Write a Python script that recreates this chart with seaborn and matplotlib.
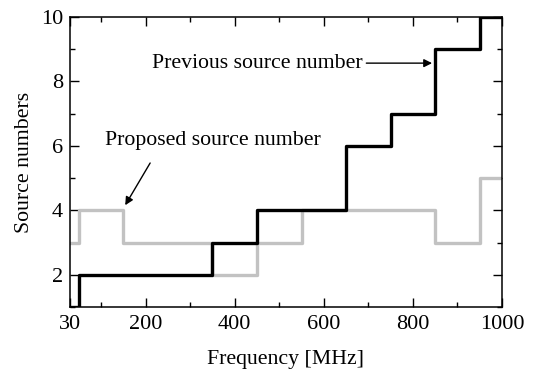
import matplotlib
matplotlib.use("Agg")
import matplotlib.pyplot as plt
import seaborn as sns
import pandas as pd
from matplotlib.ticker import FixedLocator

prev_freq = [30, 50, 350, 450, 650, 750, 850, 950, 1000]
prev_num = [1, 2, 3, 4, 6, 7, 9, 10, 10]
prop_freq = [30, 50, 150, 350, 450, 550, 850, 950, 1000]
prop_num = [3, 4, 3, 2, 3, 4, 3, 5, 5]
x_major = [30, 200, 400, 600, 800, 1000]
x_minor = [100, 300, 500, 700, 900]
y_major = [2, 4, 6, 8, 10]
y_minor = [1, 3, 5, 7, 9]

sns.set_theme(style="ticks")
plt.rcParams['font.family'] = ['Liberation Serif', 'DejaVu Serif']
plt.rcParams['text.color'] = 'black'
plt.rcParams['axes.labelcolor'] = 'black'

fig = plt.figure(figsize=(5.4, 3.71), dpi=100)
ax = fig.add_axes([0.1296, 0.1725, 0.8, 0.7815])

df_prop = pd.DataFrame({"f": prop_freq, "n": prop_num})
df_prev = pd.DataFrame({"f": prev_freq, "n": prev_num})
sns.lineplot(data=df_prop, x="f", y="n", ax=ax, color="#c2c2c2", lw=2.4,
             drawstyle="steps-post", sort=False, estimator=None)
sns.lineplot(data=df_prev, x="f", y="n", ax=ax, color="black", lw=2.4,
             drawstyle="steps-post", sort=False, estimator=None)

ax.set_xlim(30, 1000)
ax.set_ylim(1, 10)
ax.xaxis.set_major_locator(FixedLocator(x_major))
ax.xaxis.set_minor_locator(FixedLocator(x_minor))
ax.yaxis.set_major_locator(FixedLocator(y_major))
ax.yaxis.set_minor_locator(FixedLocator(y_minor))
ax.tick_params(which="both", direction="in", top=True, right=True,
               colors="black", labelsize=16, width=1.0)
ax.tick_params(which="major", length=6.5)
ax.tick_params(which="minor", length=3.5)
ax.tick_params(axis="x", which="major", pad=6)
ax.tick_params(axis="y", which="major", pad=5)
for s in ax.spines.values():
    s.set_linewidth(1.1)
    s.set_color("black")

ax.set_xlabel("Frequency [MHz]", fontsize=15.7, labelpad=11, color="black")
ax.set_ylabel("Source numbers", fontsize=15.7, labelpad=5, color="black")

ax.annotate("Previous source number", xy=(843, 8.57), xytext=(688, 8.57),
            fontsize=15.7, ha="right", va="center", color="black",
            arrowprops=dict(arrowstyle="-|>", color="black", lw=1.0,
                            mutation_scale=12, shrinkA=0, shrinkB=0))
ax.annotate("", xy=(154, 4.16), xytext=(210, 5.47),
            arrowprops=dict(arrowstyle="-|>", color="black", lw=1.0,
                            mutation_scale=12, shrinkA=0, shrinkB=0))
ax.text(109, 6.18, "Proposed source number", fontsize=15.7, ha="left",
        va="center", color="black")

fig.savefig("out.png", dpi=100)
